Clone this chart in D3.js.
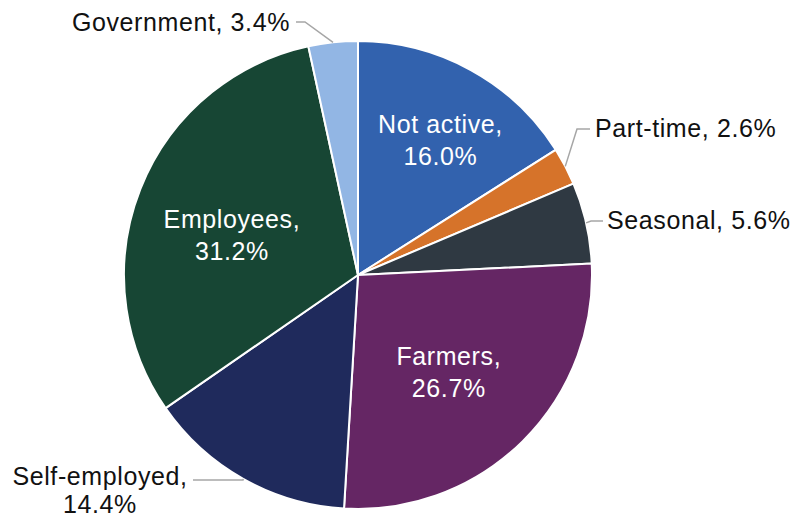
<!DOCTYPE html>
<html>
<head>
<meta charset="utf-8">
<script src="https://cdn.jsdelivr.net/npm/d3@7/dist/d3.min.js"></script>
<style>
  html, body { margin: 0; padding: 0; background: #fff; }
  svg text { font-family: "Liberation Sans", Arial, sans-serif; letter-spacing: 0.6px; }
</style>
</head>
<body>
<svg id="chart" width="794" height="517"></svg>
<script>
// Employment status shares (%)
const categories = ["Not active", "Part-time", "Seasonal", "Farmers", "Self-employed", "Employees", "Government"];
const shares = [16.0, 2.6, 5.6, 26.7, 14.4, 31.2, 3.4];
const sliceColors = ["#3262ae", "#d6732a", "#2f3942", "#652664", "#1f2a5c", "#174634", "#92b6e4"];

// Label placement: inside labels sit on the slice; outside labels use a leader line
const labelLayout = {
  "Not active":    { inside: true, r: 0.66, dx: 8,  dy: 1 },
  "Farmers":       { inside: true, r: 0.57, dx: -3, dy: 3 },
  "Employees":     { inside: true, r: 0.57, dx: -2, dy: 10 },
  "Part-time":     { x: 595, y: 137, anchor: "start", elbow: [577, 129], lineEnd: [590, 129] },
  "Seasonal":      { x: 607, y: 229, anchor: "start", elbow: [591, 221], lineEnd: [603, 221] },
  "Government":    { x: 290, y: 31,  anchor: "end",   elbow: [305, 22],  lineEnd: [296, 22] },
  "Self-employed": { x: 100, y: 485, anchor: "middle", twoLine: true, elbow: [243, 480], lineEnd: [193, 480] }
};

const svg = d3.select("#chart");
const cx = 358, cy = 275, radius = 234;
const fontSize = 25, lineGap = 32;

const data = categories.map((c, i) => ({ name: c, value: shares[i], color: sliceColors[i] }));

const pie = d3.pie().value(d => d.value).sort(null);
const arcs = pie(data);
const arc = d3.arc().innerRadius(0).outerRadius(radius);

const g = svg.append("g").attr("transform", `translate(${cx},${cy})`);

g.selectAll("path.slice")
  .data(arcs)
  .join("path")
  .attr("class", "slice")
  .attr("d", arc)
  .attr("fill", d => d.data.color)
  .attr("stroke", "#fff")
  .attr("stroke-width", 2)
  .attr("stroke-linejoin", "round");

const fmt = d3.format(".1f");

arcs.forEach(a => {
  const lay = labelLayout[a.data.name];
  const mid = (a.startAngle + a.endAngle) / 2;
  const line1 = a.data.name + ",";
  const line2 = fmt(a.data.value) + "%";
  if (lay.inside) {
    const rr = radius * lay.r;
    const x = cx + rr * Math.sin(mid) + lay.dx;
    const y = cy - rr * Math.cos(mid) + lay.dy;
    const t = svg.append("text")
      .attr("text-anchor", "middle")
      .attr("font-size", fontSize)
      .attr("fill", "#fff");
    t.append("tspan").attr("x", x).attr("y", y - lineGap / 2 + 8).text(line1);
    t.append("tspan").attr("x", x).attr("y", y + lineGap / 2 + 8).text(line2);
  } else {
    // leader line from the slice edge to the label
    const ex = cx + radius * Math.sin(mid);
    const ey = cy - radius * Math.cos(mid);
    svg.append("polyline")
      .attr("points", [[ex, ey], lay.elbow, lay.lineEnd].map(p => p.join(",")).join(" "))
      .attr("fill", "none")
      .attr("stroke", "#a6a6a6")
      .attr("stroke-width", 1.5);
    const t = svg.append("text")
      .attr("text-anchor", lay.anchor)
      .attr("font-size", fontSize)
      .attr("fill", "#111");
    if (lay.twoLine) {
      t.append("tspan").attr("x", lay.x).attr("y", lay.y).text(line1);
      t.append("tspan").attr("x", lay.x).attr("y", lay.y + 28).text(line2);
    } else {
      t.attr("x", lay.x).attr("y", lay.y).text(line1 + " " + line2);
    }
  }
});
</script>
</body>
</html>
